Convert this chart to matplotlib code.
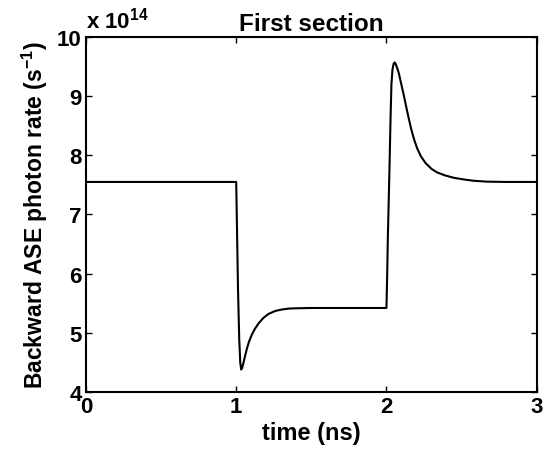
import matplotlib
matplotlib.use('Agg')
import matplotlib.pyplot as plt

# values (rate in units of 1e14 s^-1)
time_ns = [0, 1.0, 1.006, 1.012, 1.02, 1.027, 1.033, 1.04, 1.049, 1.06, 1.071,
           1.085, 1.104, 1.125, 1.149, 1.18, 1.215, 1.26, 1.305, 1.35, 1.4, 1.5,
           2.0, 2.005, 2.009, 2.02, 2.027, 2.033, 2.04, 2.048, 2.055, 2.062,
           2.072, 2.082, 2.098, 2.115, 2.138, 2.165, 2.185, 2.204, 2.23, 2.26,
           2.3, 2.338, 2.39, 2.449, 2.52, 2.58, 2.67, 2.8, 3.0]
rate = [7.55, 7.55, 6.65, 5.74, 4.9, 4.5, 4.38, 4.41, 4.5, 4.62, 4.73,
        4.85, 4.97, 5.07, 5.16, 5.25, 5.32, 5.37, 5.395, 5.41, 5.415, 5.42,
        5.42, 6.0, 6.58, 7.77, 8.6, 9.2, 9.45, 9.55, 9.57, 9.54,
        9.47, 9.39, 9.21, 9.02, 8.74, 8.44, 8.26, 8.12, 7.98, 7.87,
        7.77, 7.71, 7.66, 7.62, 7.59, 7.57, 7.555, 7.55, 7.55]
x_ticks = [0, 1, 2, 3]
y_ticks = [4, 5, 6, 7, 8, 9, 10]

plt.rcParams['font.family'] = ['Liberation Sans', 'DejaVu Sans']
plt.rcParams['font.weight'] = 'bold'
plt.rcParams['mathtext.fontset'] = 'custom'
plt.rcParams['mathtext.rm'] = 'Liberation Sans:bold'
plt.rcParams['mathtext.default'] = 'rm'

fig = plt.figure(figsize=(5.44, 4.52), dpi=100)
ax = fig.add_axes([0.158, 0.1305, 0.8286, 0.7855])

ax.plot(time_ns, rate, color='black', linewidth=1.5)

ax.set_xlim(0, 3)
ax.set_ylim(4, 10)
ax.set_xticks(x_ticks)
ax.set_yticks(y_ticks)
ax.tick_params(direction='in', length=4, width=1, top=True, right=True,
               labelsize=16, pad=3)
for s in ax.spines.values():
    s.set_linewidth(1.5)

ax.set_xlabel('time (ns)', fontsize=17, fontweight='bold', labelpad=3)
ax.set_ylabel('Backward ASE photon rate (s$^{-1}$)', fontsize=16.5,
              fontweight='bold', labelpad=5)
ax.set_title('First section', fontsize=17.5, fontweight='bold', pad=5)
ax.text(0.0, 1.012, 'x 10$^{14}$', transform=ax.transAxes, fontsize=16,
        fontweight='bold', ha='left', va='bottom')

fig.savefig('out.png', dpi=100)
